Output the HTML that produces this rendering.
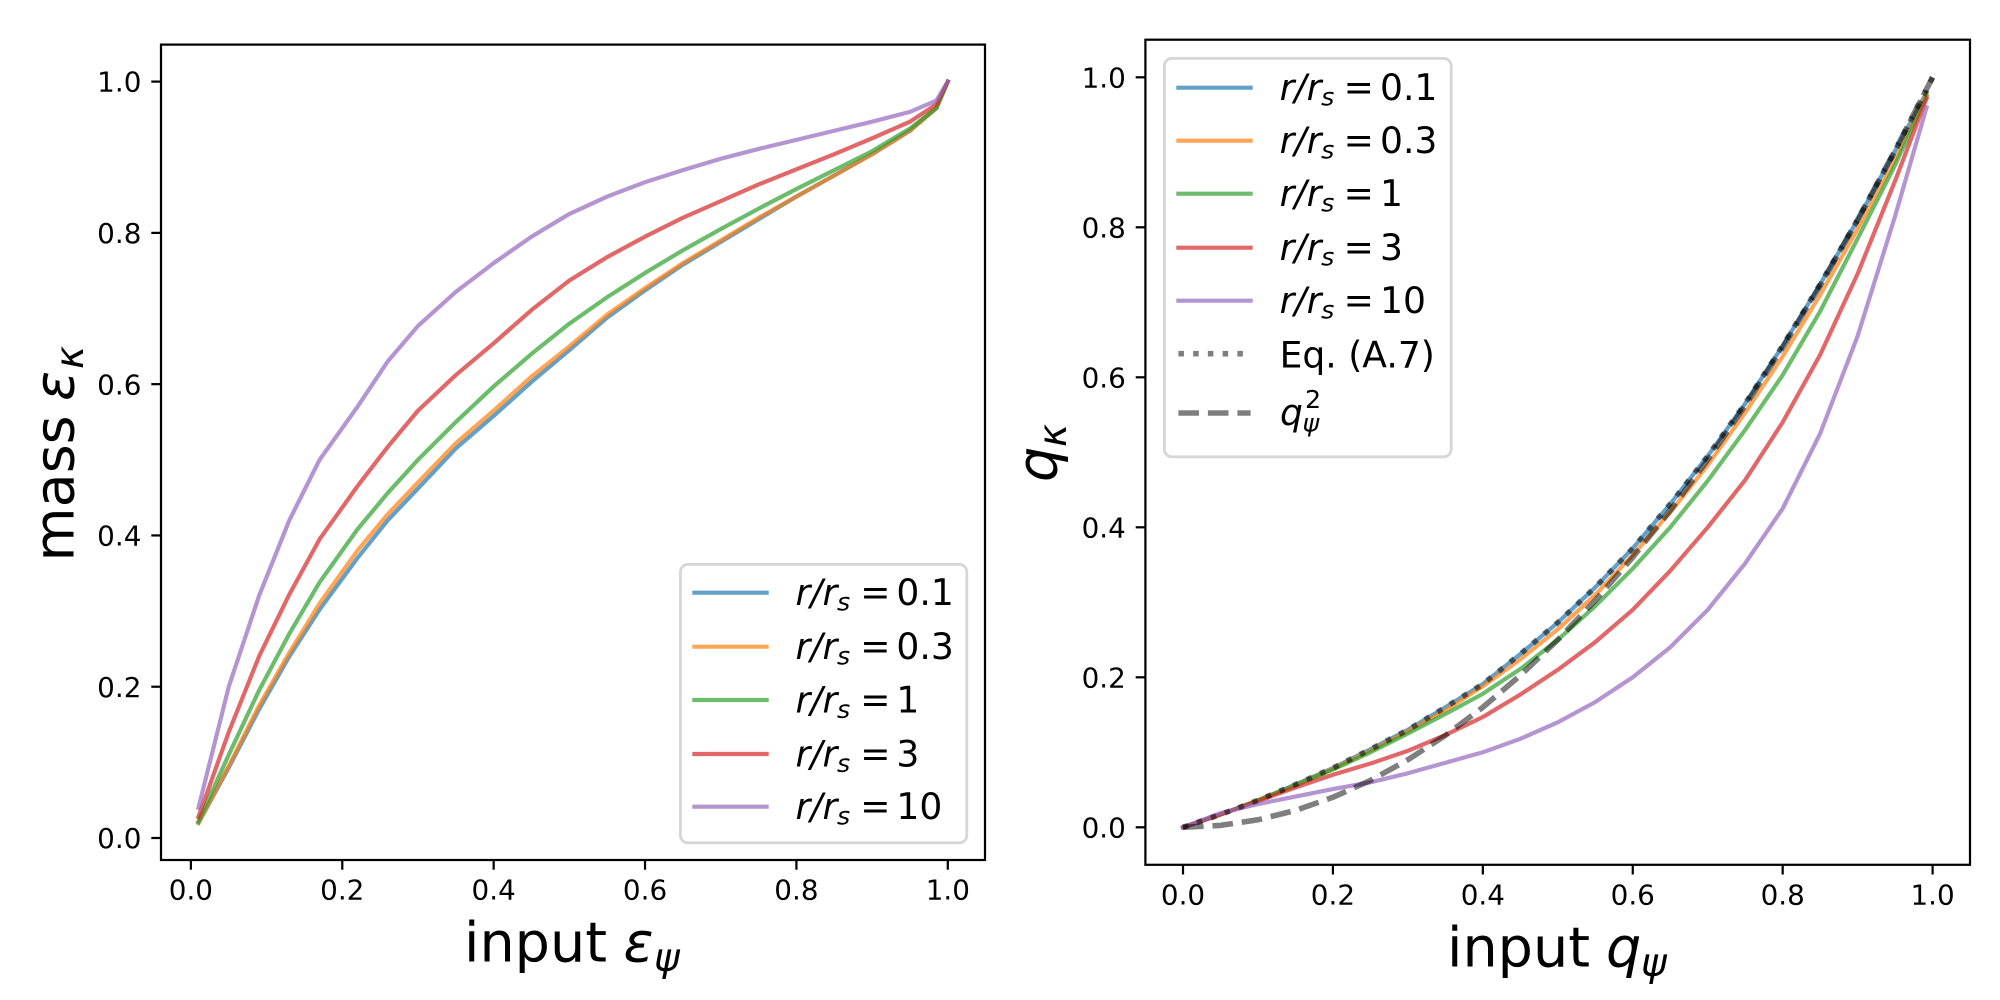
<!DOCTYPE html>
<html lang="en">
<head>
<meta charset="utf-8">
<title>Mass and q input/output curves</title>
<style>
html,body{margin:0;padding:0;background:#fff;width:2000px;height:1000px;overflow:hidden}
svg{display:block}
text{font-family:"DejaVu Sans","Liberation Sans",sans-serif;fill:#000}
.lg{font-size:36.1px}
.tick{font-size:27.8px}
.lab{font-size:55.6px}
.it{font-style:italic}
</style>
</head>
<body>
<svg id="figure" xmlns="http://www.w3.org/2000/svg" width="2000" height="1000" viewBox="0 0 2000 1000">
  <rect x="0" y="0" width="2000" height="1000" fill="#fff"/>
  <g id="left-axes"></g>
  <g id="right-axes"></g>

  <g>
    <text class="lab" x="464" y="961.5">input</text>
    <text class="lab it" x="623.5" y="961.5">ε</text>
    <text class="it" font-size="38.9" x="654" y="971">ψ</text>
  </g>
  <g transform="translate(73.3,0) rotate(-90)">
    <text class="lab" x="-561.5" y="0">mass</text>
    <text class="lab it" x="-401" y="0">ε</text>
    <text class="it" font-size="38.9" x="-369" y="9.5">κ</text>
  </g>
  <g>
    <text class="lab" x="1447" y="966.5">input</text>
    <text class="lab it" x="1606" y="966.5">q</text>
    <text class="it" font-size="38.9" x="1641" y="976">ψ</text>
  </g>
  <g transform="translate(1056.7,0) rotate(-90)">
    <text class="lab it" x="-482" y="0">q</text>
    <text class="it" font-size="38.9" x="-447" y="9.5">κ</text>
  </g>

  <g>
    <rect x="680.4" y="564.4" width="286.4" height="278.4" rx="7.5" ry="7.5" fill="#fff" fill-opacity="0.8" stroke="#d6d6d6" stroke-width="2.78"/>
    <g>
      <line x1="694.4" x2="766.6" y1="592.7" y2="592.7" stroke="#1f77b4" stroke-opacity="0.7" stroke-width="4.17" stroke-linecap="square"/>
      <text class="lg" y="605"><tspan class="it" x="795.5">r/r</tspan><tspan class="it" x="837" dy="5.5" font-size="25.3">s</tspan><tspan x="860.2" dy="-5.5">=</tspan><tspan x="896.4">0.1</tspan></text>
    </g>
    <g>
      <line x1="694.4" x2="766.6" y1="646.7" y2="646.7" stroke="#ff7f0e" stroke-opacity="0.7" stroke-width="4.17" stroke-linecap="square"/>
      <text class="lg" y="659"><tspan class="it" x="795.5">r/r</tspan><tspan class="it" x="837" dy="5.5" font-size="25.3">s</tspan><tspan x="860.2" dy="-5.5">=</tspan><tspan x="896.4">0.3</tspan></text>
    </g>
    <g>
      <line x1="694.4" x2="766.6" y1="700" y2="700" stroke="#2ca02c" stroke-opacity="0.7" stroke-width="4.17" stroke-linecap="square"/>
      <text class="lg" y="712.3"><tspan class="it" x="795.5">r/r</tspan><tspan class="it" x="837" dy="5.5" font-size="25.3">s</tspan><tspan x="860.2" dy="-5.5">=</tspan><tspan x="896.4">1</tspan></text>
    </g>
    <g>
      <line x1="694.4" x2="766.6" y1="754" y2="754" stroke="#d62728" stroke-opacity="0.7" stroke-width="4.17" stroke-linecap="square"/>
      <text class="lg" y="766.3"><tspan class="it" x="795.5">r/r</tspan><tspan class="it" x="837" dy="5.5" font-size="25.3">s</tspan><tspan x="860.2" dy="-5.5">=</tspan><tspan x="896.4">3</tspan></text>
    </g>
    <g>
      <line x1="694.4" x2="766.6" y1="806.7" y2="806.7" stroke="#9467bd" stroke-opacity="0.7" stroke-width="4.17" stroke-linecap="square"/>
      <text class="lg" y="819"><tspan class="it" x="795.5">r/r</tspan><tspan class="it" x="837" dy="5.5" font-size="25.3">s</tspan><tspan x="860.2" dy="-5.5">=</tspan><tspan x="896.4">10</tspan></text>
    </g>
  </g>

  <g>
    <rect x="1164.4" y="58.4" width="286.8" height="398.4" rx="7.5" ry="7.5" fill="#fff" fill-opacity="0.8" stroke="#d6d6d6" stroke-width="2.78"/>
    <g>
      <line x1="1178.4" x2="1250.6" y1="87.7" y2="87.7" stroke="#1f77b4" stroke-opacity="0.7" stroke-width="4.17" stroke-linecap="square"/>
      <text class="lg" y="100"><tspan class="it" x="1279.6">r/r</tspan><tspan class="it" x="1321.1" dy="5.5" font-size="25.3">s</tspan><tspan x="1343.6" dy="-5.5">=</tspan><tspan x="1380">0.1</tspan></text>
    </g>
    <g>
      <line x1="1178.4" x2="1250.6" y1="140.7" y2="140.7" stroke="#ff7f0e" stroke-opacity="0.7" stroke-width="4.17" stroke-linecap="square"/>
      <text class="lg" y="153"><tspan class="it" x="1279.6">r/r</tspan><tspan class="it" x="1321.1" dy="5.5" font-size="25.3">s</tspan><tspan x="1343.6" dy="-5.5">=</tspan><tspan x="1380">0.3</tspan></text>
    </g>
    <g>
      <line x1="1178.4" x2="1250.6" y1="193.7" y2="193.7" stroke="#2ca02c" stroke-opacity="0.7" stroke-width="4.17" stroke-linecap="square"/>
      <text class="lg" y="206"><tspan class="it" x="1279.6">r/r</tspan><tspan class="it" x="1321.1" dy="5.5" font-size="25.3">s</tspan><tspan x="1343.6" dy="-5.5">=</tspan><tspan x="1380">1</tspan></text>
    </g>
    <g>
      <line x1="1178.4" x2="1250.6" y1="247.7" y2="247.7" stroke="#d62728" stroke-opacity="0.7" stroke-width="4.17" stroke-linecap="square"/>
      <text class="lg" y="260"><tspan class="it" x="1279.6">r/r</tspan><tspan class="it" x="1321.1" dy="5.5" font-size="25.3">s</tspan><tspan x="1343.6" dy="-5.5">=</tspan><tspan x="1380">3</tspan></text>
    </g>
    <g>
      <line x1="1178.4" x2="1250.6" y1="300.7" y2="300.7" stroke="#9467bd" stroke-opacity="0.7" stroke-width="4.17" stroke-linecap="square"/>
      <text class="lg" y="313"><tspan class="it" x="1279.6">r/r</tspan><tspan class="it" x="1321.1" dy="5.5" font-size="25.3">s</tspan><tspan x="1343.6" dy="-5.5">=</tspan><tspan x="1380">10</tspan></text>
    </g>
    <g>
      <line x1="1178.4" x2="1250.6" y1="353.7" y2="353.7" stroke="#000" stroke-opacity="0.5" stroke-width="5.56" stroke-dasharray="5.56 9.17"/>
      <text class="lg" x="1279.6" y="367.7">Eq. (A.7)</text>
    </g>
    <g>
      <line x1="1178.4" x2="1250.6" y1="413" y2="413" stroke="#000" stroke-opacity="0.5" stroke-width="5.56" stroke-dasharray="20.6 8.9"/>
      <text class="lg it" x="1280" y="425">q</text>
      <text font-size="25.3" x="1305" y="408">2</text>
      <text class="it" font-size="25.3" x="1302.5" y="431.6">ψ</text>
    </g>
  </g>
</svg>
<script>
// ---- chart data ----
const tickLabels = ["0.0", "0.2", "0.4", "0.6", "0.8", "1.0"];
const tickValues = [0, 0.2, 0.4, 0.6, 0.8, 1.0];

const massInput = [0.01,0.05,0.09,0.13,0.17,0.22,0.26,0.30,0.35,0.40,0.45,0.50,0.55,0.60,0.65,0.70,0.75,0.80,0.85,0.90,0.95,0.985,1.0];
const massR01 = [0.02,0.093,0.17,0.24,0.302,0.37,0.42,0.462,0.515,0.558,0.603,0.645,0.688,0.724,0.758,0.788,0.818,0.848,0.876,0.904,0.935,0.965,1.0];
const massR03 = [0.02,0.095,0.175,0.245,0.31,0.38,0.428,0.47,0.522,0.565,0.61,0.65,0.692,0.727,0.76,0.79,0.82,0.848,0.876,0.904,0.935,0.965,1.0];
const massR1 = [0.022,0.11,0.195,0.27,0.338,0.408,0.456,0.5,0.55,0.597,0.64,0.68,0.715,0.747,0.777,0.805,0.832,0.858,0.883,0.908,0.938,0.965,1.0];
const massR3 = [0.028,0.14,0.24,0.322,0.395,0.465,0.517,0.565,0.612,0.654,0.698,0.737,0.768,0.795,0.82,0.842,0.864,0.884,0.904,0.925,0.947,0.97,1.0];
const massR10 = [0.04,0.2,0.32,0.42,0.5,0.57,0.63,0.677,0.722,0.76,0.795,0.825,0.848,0.867,0.883,0.898,0.911,0.923,0.935,0.947,0.96,0.975,1.0];

const qInput = [0,0.05,0.1,0.15,0.2,0.25,0.3,0.35,0.4,0.45,0.5,0.55,0.6,0.65,0.7,0.75,0.8,0.85,0.9,0.95,0.992];
const qR01 = [0,0.017,0.036,0.057,0.079,0.104,0.13,0.16,0.191,0.231,0.273,0.32,0.372,0.431,0.495,0.565,0.642,0.724,0.81,0.902,0.98];
const qR03 = [0,0.017,0.036,0.056,0.078,0.102,0.128,0.156,0.188,0.224,0.264,0.31,0.363,0.42,0.483,0.553,0.628,0.71,0.798,0.89,0.978];
const qR1 = [0,0.017,0.036,0.056,0.077,0.1,0.125,0.151,0.178,0.211,0.25,0.295,0.345,0.4,0.462,0.53,0.603,0.688,0.785,0.883,0.975];
const qR3 = [0,0.017,0.035,0.053,0.07,0.085,0.102,0.123,0.147,0.177,0.21,0.247,0.29,0.342,0.4,0.463,0.54,0.63,0.738,0.862,0.972];
const qR10 = [0,0.019,0.031,0.041,0.051,0.06,0.072,0.086,0.1,0.118,0.14,0.167,0.2,0.24,0.29,0.352,0.425,0.525,0.655,0.815,0.96];

const refInput = [0,0.05,0.1,0.15,0.2,0.25,0.3,0.35,0.4,0.45,0.5,0.55,0.6,0.65,0.7,0.75,0.8,0.85,0.9,0.95,1.0];
const eqA7 = [0,0.017,0.036,0.057,0.079,0.104,0.13,0.16,0.191,0.231,0.273,0.32,0.372,0.431,0.495,0.565,0.642,0.724,0.81,0.902,1.0];
const qSquared = [0,0.0025,0.01,0.0225,0.04,0.0625,0.09,0.1225,0.16,0.2025,0.25,0.3025,0.36,0.4225,0.49,0.5625,0.64,0.7225,0.81,0.9025,1.0];

// ---- axis functions ----
const NS = 'http://www.w3.org/2000/svg';
const TAB = { r01: '#1f77b4', r03: '#ff7f0e', r1: '#2ca02c', r3: '#d62728', r10: '#9467bd' };

function massX(v) { return 190.9 + v * 756.9; }
function massY(v) { return 838 - v * 756.4; }
function qX(v) { return 1183 + v * 749.6; }
function qY(v) { return 827.3 - v * 750; }

function pathFor(xs, ys, xf, yf) {
  return xs.map(function (x, i) {
    return (i ? 'L' : 'M') + xf(x).toFixed(2) + ' ' + yf(ys[i]).toFixed(2);
  }).join('');
}

function drawSeries(parent, name, xs, ys, xf, yf, color, width, dash) {
  const p = document.createElementNS(NS, 'path');
  
  
  p.setAttribute('d', pathFor(xs, ys, xf, yf));
  p.setAttribute('fill', 'none');
  p.setAttribute('stroke', color);
  p.setAttribute('stroke-width', width);
  p.setAttribute('stroke-linejoin', 'round');
  p.setAttribute('stroke-opacity', dash ? 0.5 : 0.7);
  if (dash) {
    p.setAttribute('stroke-dasharray', dash);
    p.setAttribute('stroke-linecap', 'butt');
  } else {
    p.setAttribute('stroke-linecap', 'square');
  }
  parent.appendChild(p);
}

function drawAxes(parent, prefix, box, xf, yf) {
  const frame = document.createElementNS(NS, 'rect');
  
  
  frame.setAttribute('x', box.left);
  frame.setAttribute('y', box.top);
  frame.setAttribute('width', box.right - box.left);
  frame.setAttribute('height', box.bottom - box.top);
  frame.setAttribute('fill', 'none');
  frame.setAttribute('stroke', '#000');
  frame.setAttribute('stroke-width', 2.22);
  parent.appendChild(frame);

  tickValues.forEach(function (v, i) {
    const tx = document.createElementNS(NS, 'line');
    
    
    tx.setAttribute('x1', xf(v));
    tx.setAttribute('x2', xf(v));
    tx.setAttribute('y1', box.bottom);
    tx.setAttribute('y2', box.bottom + 9.7);
    tx.setAttribute('stroke', '#000');
    tx.setAttribute('stroke-width', 2.22);
    parent.appendChild(tx);

    const lx = document.createElementNS(NS, 'text');
    
    
    lx.setAttribute('class', 'tick');
    lx.setAttribute('x', xf(v));
    lx.setAttribute('y', box.bottom + 39.7);
    lx.setAttribute('text-anchor', 'middle');
    lx.textContent = tickLabels[i];
    parent.appendChild(lx);

    const ty = document.createElementNS(NS, 'line');
    
    
    ty.setAttribute('x1', box.left - 9.7);
    ty.setAttribute('x2', box.left);
    ty.setAttribute('y1', yf(v));
    ty.setAttribute('y2', yf(v));
    ty.setAttribute('stroke', '#000');
    ty.setAttribute('stroke-width', 2.22);
    parent.appendChild(ty);

    const ly = document.createElementNS(NS, 'text');
    
    
    ly.setAttribute('class', 'tick');
    ly.setAttribute('x', box.left - 19.6);
    ly.setAttribute('y', yf(v) + 10.1);
    ly.setAttribute('text-anchor', 'end');
    ly.textContent = tickLabels[i];
    parent.appendChild(ly);
  });
}

// ---- left panel ----
const leftG = document.getElementById('left-axes');
drawSeries(leftG, 'mass-line-r-0-1', massInput, massR01, massX, massY, TAB.r01, 4.17);
drawSeries(leftG, 'mass-line-r-0-3', massInput, massR03, massX, massY, TAB.r03, 4.17);
drawSeries(leftG, 'mass-line-r-1', massInput, massR1, massX, massY, TAB.r1, 4.17);
drawSeries(leftG, 'mass-line-r-3', massInput, massR3, massX, massY, TAB.r3, 4.17);
drawSeries(leftG, 'mass-line-r-10', massInput, massR10, massX, massY, TAB.r10, 4.17);
drawAxes(leftG, 'mass', { left: 161, right: 985, top: 44.6, bottom: 860 }, massX, massY);

// ---- right panel ----
const rightG = document.getElementById('right-axes');
drawSeries(rightG, 'q-line-r-0-1', qInput, qR01, qX, qY, TAB.r01, 4.17);
drawSeries(rightG, 'q-line-r-0-3', qInput, qR03, qX, qY, TAB.r03, 4.17);
drawSeries(rightG, 'q-line-r-1', qInput, qR1, qX, qY, TAB.r1, 4.17);
drawSeries(rightG, 'q-line-r-3', qInput, qR3, qX, qY, TAB.r3, 4.17);
drawSeries(rightG, 'q-line-r-10', qInput, qR10, qX, qY, TAB.r10, 4.17);
drawSeries(rightG, 'eq-a7-dotted-line', refInput, eqA7, qX, qY, '#000', 5.56, '5.56 9.17');
drawSeries(rightG, 'q-squared-dashed-line', refInput, qSquared, qX, qY, '#000', 5.56, '20.6 8.9');
drawAxes(rightG, 'q', { left: 1145.4, right: 1970, top: 39.7, bottom: 864.8 }, qX, qY);
</script>
</body>
</html>
